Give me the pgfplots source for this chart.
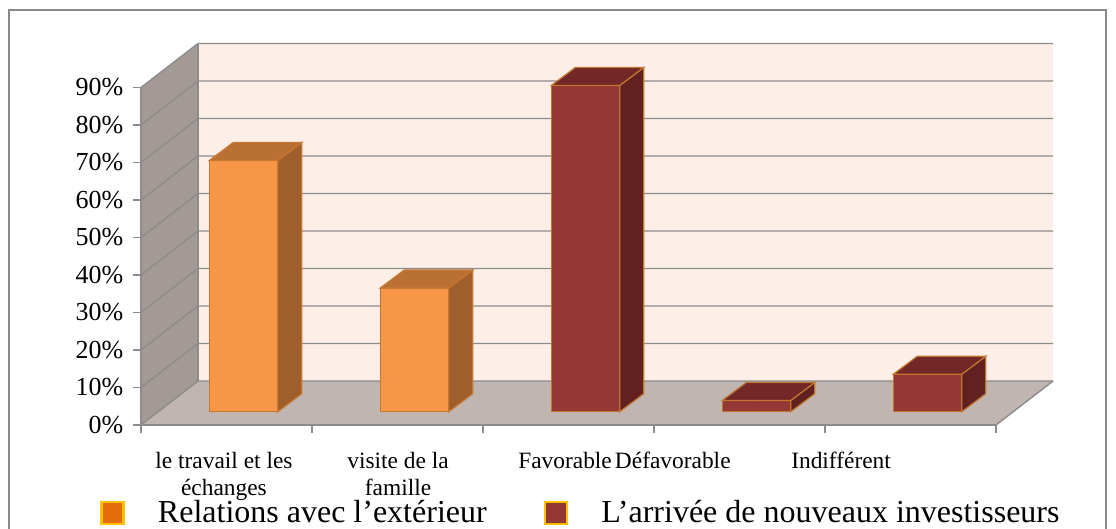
\documentclass[border=0pt]{standalone}
\usepackage{pgfplots}
\usepackage{pgfplotstable}
\pgfplotsset{compat=1.18}
\usepackage{fontspec}
\setmainfont{Liberation Serif}
\definecolor{wallBack}{HTML}{FDEFE8}
\definecolor{wallSide}{HTML}{A39A95}
\definecolor{floorC}{HTML}{C0B5B0}
\definecolor{gridC}{HTML}{8C8C8C}
\definecolor{frameC}{HTML}{8A8A8A}
\definecolor{orF}{HTML}{F79646}
\definecolor{orT}{HTML}{BA6F33}
\definecolor{orS}{HTML}{9E5F2C}
\definecolor{orE}{HTML}{C8772F}
\definecolor{rdF}{HTML}{953735}
\definecolor{rdT}{HTML}{722826}
\definecolor{rdS}{HTML}{612120}
\definecolor{rdE}{HTML}{C0762E}
\definecolor{legOr}{HTML}{E46C0A}
\definecolor{legRd}{HTML}{953735}
\definecolor{gold}{HTML}{FFC000}

\pgfplotstableread{
x y
0 67
1 33
}\dataA
\pgfplotstableread{
x y
2 87
3 3
4 10
}\dataB

\begin{document}
\begin{tikzpicture}
\begin{axis}[
  x=85.5pt, y=1.875pt,
  xmin=-0.6, xmax=4.734, ymin=-3.55, ymax=98.183,
  clip=false,
  axis line style={draw=none},
  tick pos=left, tick align=outside,
  tick style={draw=gridC, line width=0.7pt},
  major tick length=3.8pt,
  ytick={-3.55,6.45,16.45,26.45,36.45,46.45,56.45,66.45,76.45,86.45},
  yticklabels={0\%,10\%,20\%,30\%,40\%,50\%,60\%,70\%,80\%,90\%},
  yticklabel style={font=\fontsize{13}{15}\selectfont, xshift=-1.5pt},
  xtick={-0.6,0.4,1.4,2.4,3.4,4.4},
  xticklabels={,,,,,},
  extra x ticks={-0.115,0.903,1.88,2.51,3.494},
  extra x tick labels={{le travail et les\\échanges},{visite de la\\famille},Favorable,Défavorable,Indifférent},
  extra x tick style={major tick length=0pt, tick style={draw=none},
    xticklabel style={align=center, font=\fontsize{11.7}{13.5}\selectfont, yshift=-10pt}},
  legend columns=2,
  legend style={at={(axis cs:-0.8398,-27.0)}, anchor=west, draw=none, fill=none,
    inner sep=0pt, nodes={inner sep=0pt},
    font=\fontsize{16}{19}\selectfont,
    /tikz/every even column/.append style={column sep=28.5pt}},
]
% frame
\draw[frameC, line width=0.9pt] (axis cs:-1.372,107.12) rectangle (axis cs:5.043,-40);
% side wall
\fill[wallSide] (axis cs:-0.6,-3.55) -- (axis cs:-0.2667,8.183) -- (axis cs:-0.2667,98.183) -- (axis cs:-0.6,86.45) -- cycle;
% back wall
\fill[wallBack] (axis cs:-0.2667,8.183) rectangle (axis cs:4.734,98.183);
% floor
\fill[floorC] (axis cs:-0.6,-3.55) -- (axis cs:4.4,-3.55) -- (axis cs:4.734,8.183) -- (axis cs:-0.2667,8.183) -- cycle;
% grid lines
\pgfplotsinvokeforeach{0,...,9}{
  \draw[gridC, line width=0.7pt] (axis cs:-0.6,{-3.55+10*#1}) -- (axis cs:-0.2667,{8.183+10*#1}) -- (axis cs:4.734,{8.183+10*#1});
}
\draw[gridC, line width=0.7pt] (axis cs:-0.2667,8.183) -- (axis cs:-0.2667,98.183);
\draw[gridC, line width=0.7pt] (axis cs:4.4,-3.55) -- (axis cs:4.734,8.183);
% axis lines
\draw[gridC, line width=0.7pt] (axis cs:-0.6,86.45) -- (axis cs:-0.6,-3.55) -- (axis cs:4.4,-3.55);

% bars, front faces
\addplot[ybar, bar width=0.4, bar shift=0pt, fill=orF, draw=orE, line width=0.6pt, forget plot] table[x=x,y=y] {\dataA};
\addplot[ybar, bar width=0.4, bar shift=0pt, fill=rdF, draw=rdE, line width=0.6pt, forget plot] table[x=x,y=y] {\dataB};
% bars, top and side faces
\addplot[forget plot, only marks, mark=*, mark size=0pt, mark options={draw=none, fill=none},
  visualization depends on={rawy \as \rv},
  scatter,
  scatter/@pre marker code/.code={%
    \pgfmathsetmacro\H{\rv*1.875}%
    \filldraw[fill=orS, draw=orE, line width=0.6pt] (17.1pt,0pt) -- (29.1pt,9pt) -- (29.1pt,{9pt-\H pt}) -- (17.1pt,{-\H pt}) -- cycle;
    \filldraw[fill=orT, draw=orE, line width=0.6pt] (-17.1pt,0pt) -- (17.1pt,0pt) -- (29.1pt,9pt) -- (-5.1pt,9pt) -- cycle;
  },
  scatter/@post marker code/.code={}
] table[x=x,y=y] {\dataA};
\addplot[forget plot, only marks, mark=*, mark size=0pt, mark options={draw=none, fill=none},
  visualization depends on={rawy \as \rv},
  scatter,
  scatter/@pre marker code/.code={%
    \pgfmathsetmacro\H{\rv*1.875}%
    \filldraw[fill=rdS, draw=rdE, line width=0.6pt] (17.1pt,0pt) -- (29.1pt,9pt) -- (29.1pt,{9pt-\H pt}) -- (17.1pt,{-\H pt}) -- cycle;
    \filldraw[fill=rdT, draw=rdE, line width=0.6pt] (-17.1pt,0pt) -- (17.1pt,0pt) -- (29.1pt,9pt) -- (-5.1pt,9pt) -- cycle;
  },
  scatter/@post marker code/.code={}
] table[x=x,y=y] {\dataB};

\addlegendimage{legend image code/.code={\draw[fill=legOr, draw=gold, line width=1.2pt] (0pt,-5.5pt) rectangle (11pt,5.5pt); \path (28pt,0pt);}}
\addlegendentry{Relations avec l’extérieur}
\addlegendimage{legend image code/.code={\draw[fill=legRd, draw=gold, line width=1.2pt] (0pt,-5.5pt) rectangle (11pt,5.5pt); \path (28pt,0pt);}}
\addlegendentry{L’arrivée de nouveaux investisseurs}

\coordinate (bbA) at (axis cs:-1.4246,109.78);
\coordinate (bbB) at (axis cs:5.1018,-31.28);
\end{axis}
\pgfresetboundingbox
\useasboundingbox (bbA) rectangle (bbB);
\end{tikzpicture}
\end{document}
